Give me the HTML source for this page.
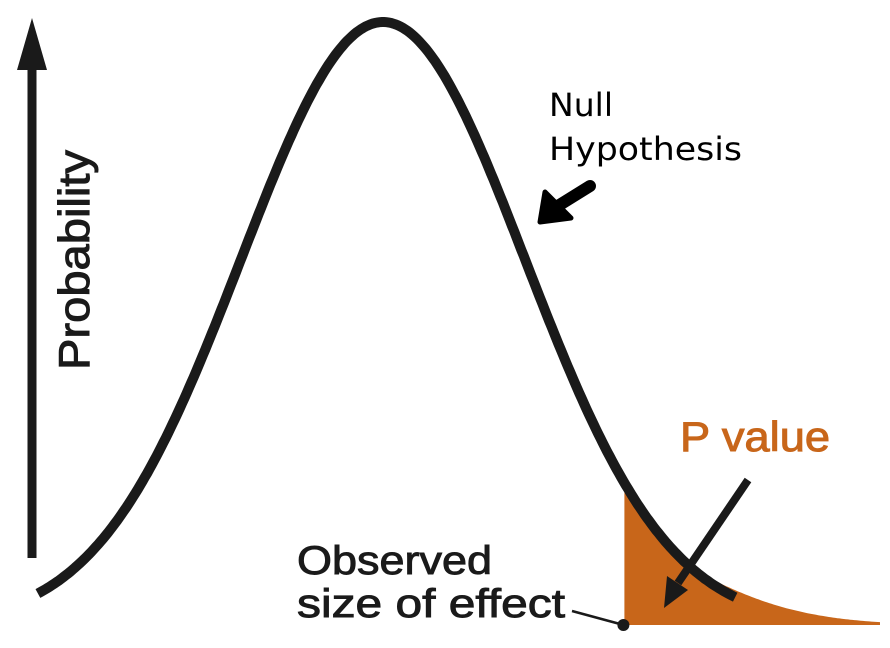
<!DOCTYPE html>
<html><head><meta charset="utf-8"><style>
html,body{margin:0;padding:0;background:#fff;}
svg{display:block;}
text{font-family:"Liberation Sans",Arial,sans-serif;}
</style></head><body>
<svg id="chart" width="890" height="648" viewBox="0 0 890 648" xmlns="http://www.w3.org/2000/svg">
  <g id="fill-layer"></g>
  <g id="curve-layer"></g>
  <!-- y axis arrow -->
  <line x1="32" y1="558" x2="32" y2="60" stroke="#1a1a1a" stroke-width="9"/>
  <polygon points="32,18 17,70 47,70" fill="#1a1a1a"/>
  <text transform="translate(89,370) rotate(-90)" font-size="44" fill="#1a1a1a" stroke="#1a1a1a" stroke-width="1" textLength="220" lengthAdjust="spacingAndGlyphs">Probability</text>
  <!-- null hypothesis label -->
  <text style="font-family:'DejaVu Sans',sans-serif" font-size="32" fill="#000">
    <tspan x="549" y="116" textLength="64" lengthAdjust="spacingAndGlyphs">Null</tspan>
    <tspan x="549" y="160" textLength="193" lengthAdjust="spacingAndGlyphs">Hypothesis</tspan>
  </text>
  <line x1="590" y1="186" x2="553" y2="209" stroke="#000" stroke-width="12" stroke-linecap="round"/>
  <polygon points="540,222 545,192 571,218" fill="#000" stroke="#000" stroke-width="5" stroke-linejoin="round"/>
  <!-- p value -->
  <text x="680" y="451" font-size="42" fill="#c8661a" stroke="#c8661a" stroke-width="1" textLength="150" lengthAdjust="spacingAndGlyphs">P value</text>
  <line x1="748" y1="480" x2="678" y2="583" stroke="#1a1a1a" stroke-width="8"/>
  <polygon points="664,608 667,576 688,590" fill="#1a1a1a"/>
  <!-- observed -->
  <text font-size="40" fill="#1a1a1a" stroke="#1a1a1a" stroke-width="0.9">
    <tspan x="297" y="574" textLength="195" lengthAdjust="spacingAndGlyphs">Observed</tspan>
    <tspan x="297" y="617" textLength="268" lengthAdjust="spacingAndGlyphs">size of effect</tspan>
  </text>
  <line x1="572" y1="611" x2="620" y2="624" stroke="#1a1a1a" stroke-width="2.5"/>
  <g id="marker-layer"></g>
</svg>
<script>
// Distribution parameters (standard normal null hypothesis)
const dist_mean = [0];
const dist_sd = [1];
const curve_range = [-2.43, 2.48];
const tail_range = [1.70, 3.5];
const observed_effect = [1.70];

const NS = "http://www.w3.org/2000/svg";
const x0 = 383, pxPerUnit = 142, baseY = 625, peakH = 603;
function xScale(v){ return x0 + v * pxPerUnit; }
function pdfRel(v){ const z = (v - dist_mean[0]) / dist_sd[0]; return Math.exp(-z*z/2); }
function yScale(d){ return baseY - d * peakH; }

// tail fill
let fd = "M" + xScale(tail_range[0]) + "," + baseY;
for (let i = 0; i <= 120; i++) {
  const v = tail_range[0] + (tail_range[1] - tail_range[0]) * i / 120;
  const d = pdfRel(v) * (1 + Math.max(0, v - 2.2) * 0.9);
  fd += " L" + xScale(v).toFixed(1) + "," + yScale(d).toFixed(1);
}
fd += " L" + xScale(tail_range[1]) + "," + baseY + " Z";
const fill = document.createElementNS(NS, "path");
fill.setAttribute("d", fd);
fill.setAttribute("fill", "#c8661a");


document.getElementById("fill-layer").appendChild(fill);

// curve
let cd = "";
for (let i = 0; i <= 300; i++) {
  const v = curve_range[0] + (curve_range[1] - curve_range[0]) * i / 300;
  cd += (i ? " L" : "M") + xScale(v).toFixed(1) + "," + yScale(pdfRel(v)).toFixed(1);
}
const curve = document.createElementNS(NS, "path");
curve.setAttribute("d", cd);
curve.setAttribute("fill", "none");
curve.setAttribute("stroke", "#1a1a1a");
curve.setAttribute("stroke-width", "10");


document.getElementById("curve-layer").appendChild(curve);

// observed marker
const dot = document.createElementNS(NS, "circle");
dot.setAttribute("cx", xScale(observed_effect[0]) - 1);
dot.setAttribute("cy", baseY);
dot.setAttribute("r", "6");
dot.setAttribute("fill", "#1a1a1a");


document.getElementById("marker-layer").appendChild(dot);
</script>
</body></html>
